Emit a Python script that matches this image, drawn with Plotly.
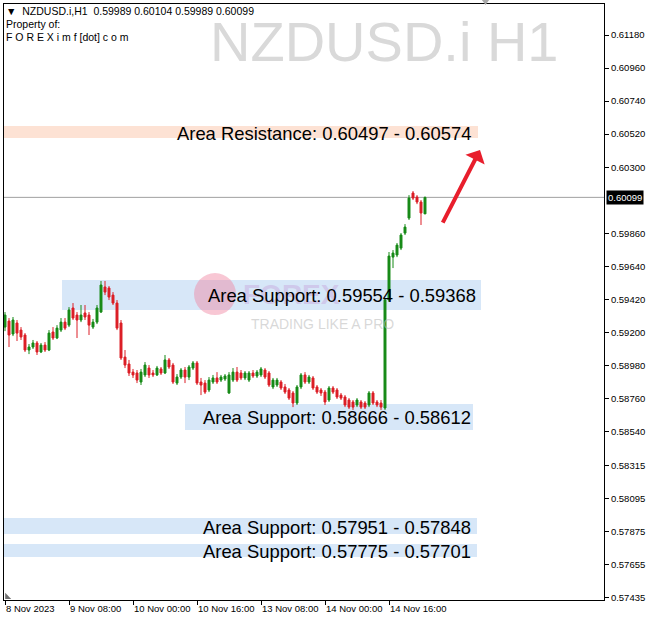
import plotly.graph_objects as go

# ---- data ----
opens = [0.59235,0.59275,0.59189,0.59262,0.59215,0.59182,0.59082,0.59102,0.59129,0.59069,
         0.59115,0.59082,0.59202,0.59162,0.59215,0.59268,0.59248,0.59362,0.59315,0.59282,
         0.59329,0.59315,0.59235,0.59268,0.59335,0.59502,0.59495,0.59448,0.59395,0.59262,
         0.59035,0.58989,0.58935,0.58929,0.58869,0.58916,0.58962,0.58929,0.58916,0.58956,
         0.58929,0.59016,0.58982,0.58862,0.58902,0.58949,0.58902,0.58962,0.58996,0.58869,
         0.58862,0.58816,0.58869,0.58896,0.58882,0.58889,0.58796,0.58882,0.58935,0.58929,
         0.58896,0.58882,0.58929,0.58909,0.58916,0.58949,0.58929,0.58836,0.58849,0.58869,
         0.58836,0.58816,0.58796,0.58729,0.58836,0.58916,0.58869,0.58896,0.58836,0.58816,
         0.58802,0.58749,0.58829,0.58816,0.58782,0.58769,0.58749,0.58736,0.58716,0.58736,
         0.58729,0.58716,0.58796,0.58736,0.58729,0.58696,0.59415,0.59701,0.59715,0.59761,
         0.59861,0.59961,0.60128,0.60101,0.60068,0.59989]
highs = [0.59335,0.59295,0.59302,0.59282,0.59235,0.59195,0.59122,0.59149,0.59142,0.59129,
         0.59135,0.59215,0.59235,0.59248,0.59295,0.59295,0.59368,0.59395,0.59335,0.59382,
         0.59382,0.59335,0.59289,0.59382,0.59542,0.59542,0.59508,0.59468,0.59415,0.59282,
         0.59082,0.59016,0.58956,0.58949,0.58956,0.59002,0.58982,0.58949,0.58976,0.58969,
         0.59049,0.59029,0.58996,0.58922,0.58962,0.58969,0.58982,0.59009,0.59009,0.58896,
         0.58882,0.58902,0.58916,0.58935,0.58916,0.58922,0.58935,0.58962,0.58969,0.58949,
         0.58942,0.58942,0.58949,0.58949,0.58969,0.58962,0.58942,0.58896,0.58896,0.58882,
         0.58856,0.58829,0.58809,0.58849,0.58929,0.58935,0.58916,0.58909,0.58849,0.58829,
         0.58816,0.58842,0.58842,0.58829,0.58796,0.58782,0.58762,0.58749,0.58762,0.58749,
         0.58742,0.58809,0.58809,0.58749,0.58749,0.59428,0.59735,0.59748,0.59795,0.59861,
         0.59921,0.60114,0.60141,0.60114,0.60081,0.60104]
lows = [0.59208,0.59102,0.59175,0.59142,0.59149,0.59069,0.59055,0.59089,0.59049,0.59062,
        0.59069,0.59075,0.59149,0.59155,0.59202,0.59215,0.59235,0.59282,0.59162,0.59268,
        0.59282,0.59182,0.59222,0.59255,0.59329,0.59448,0.59415,0.59382,0.59215,0.59016,
        0.58962,0.58909,0.58896,0.58862,0.58849,0.58902,0.58896,0.58902,0.58909,0.58916,
        0.58922,0.58956,0.58856,0.58849,0.58889,0.58862,0.58882,0.58949,0.58849,0.58782,
        0.58789,0.58802,0.58856,0.58856,0.58869,0.58876,0.58789,0.58869,0.58869,0.58882,
        0.58882,0.58869,0.58896,0.58896,0.58902,0.58889,0.58836,0.58822,0.58836,0.58816,
        0.58789,0.58749,0.58702,0.58716,0.58822,0.58856,0.58856,0.58816,0.58789,0.58776,
        0.58716,0.58736,0.58789,0.58756,0.58749,0.58702,0.58689,0.58683,0.58702,0.58689,
        0.58689,0.58702,0.58716,0.58702,0.58683,0.58683,0.59402,0.59628,0.59701,0.59748,
        0.59848,0.59948,0.60081,0.60054,0.59915,0.59989]
closes = [0.59315,0.59182,0.59282,0.59195,0.59169,0.59082,0.59102,0.59129,0.59069,0.59115,
          0.59082,0.59195,0.59162,0.59228,0.59268,0.59228,0.59349,0.59295,0.59282,0.59315,
          0.59302,0.59248,0.59268,0.59362,0.59515,0.59468,0.59435,0.59395,0.59228,0.59029,
          0.58982,0.58929,0.58916,0.58882,0.58935,0.58982,0.58916,0.58916,0.58962,0.58929,
          0.59016,0.58969,0.58869,0.58902,0.58949,0.58902,0.58969,0.58996,0.58862,0.58849,
          0.58802,0.58882,0.58896,0.58869,0.58902,0.58909,0.58916,0.58935,0.58882,0.58896,
          0.58929,0.58929,0.58909,0.58935,0.58956,0.58902,0.58849,0.58882,0.58882,0.58829,
          0.58802,0.58762,0.58729,0.58836,0.58916,0.58869,0.58902,0.58829,0.58802,0.58796,
          0.58736,0.58829,0.58802,0.58769,0.58762,0.58716,0.58702,0.58702,0.58749,0.58702,
          0.58702,0.58796,0.58729,0.58716,0.58702,0.59415,0.59708,0.59728,0.59781,0.59848,
          0.59901,0.60094,0.60094,0.60068,0.59995,0.60099]

time_tick_bars = [0, 16, 32, 48, 64, 80, 96]
time_tick_labels = ["8 Nov 2023", "9 Nov 08:00", "10 Nov 00:00", "10 Nov 16:00",
                    "13 Nov 08:00", "14 Nov 00:00", "14 Nov 16:00"]

price_ticks = [0.61180, 0.60960, 0.60740, 0.60520, 0.60300, 0.59860, 0.59640, 0.59420,
               0.59200, 0.58980, 0.58760, 0.58540, 0.58315, 0.58095, 0.57875, 0.57655, 0.57435]
current_price = 0.60099

# zones
zone_labels = ["Area Resistance: 0.60497 - 0.60574", "Area Support: 0.59554 - 0.59368",
               "Area Support: 0.58666 - 0.58612", "Area Support: 0.57951 - 0.57848",
               "Area Support: 0.57775 - 0.57701"]
zone_low = [0.60494, 0.59349, 0.58549, 0.57857, 0.57704]
zone_high = [0.60574, 0.59548, 0.58722, 0.57963, 0.57790]
zone_start = [-0.25, 14.25, 45.0, -0.25, -0.25]
zone_end = [118.25, 119.0, 117.0, 118.0, 118.0]
zone_kind = ["res", "sup", "sup", "sup", "sup"]

bars = list(range(len(opens)))

fig = go.Figure()
fig.add_trace(go.Candlestick(
    x=bars, open=opens, high=highs, low=lows, close=closes,
    increasing=dict(line=dict(color="#178a17", width=1), fillcolor="#178a17"),
    decreasing=dict(line=dict(color="#dc1e26", width=1), fillcolor="#dc1e26"),
    whiskerwidth=0, showlegend=False, hoverinfo="skip"))

shapes = []
annotations = []
label_font = dict(family="Liberation Sans, Arial, sans-serif", size=18.4, color="#000000")
for lab, lo, hi, s, e, k in zip(zone_labels, zone_low, zone_high, zone_start, zone_end, zone_kind):
    shapes.append(dict(type="rect", xref="x", yref="y", x0=s, x1=e, y0=lo, y1=hi,
                       fillcolor="#fde2d4" if k == "res" else "#d7e7f8",
                       line=dict(width=0), layer="below"))

# watermark logo
shapes.append(dict(type="circle", xref="x", yref="y", xsizemode="pixel", ysizemode="pixel",
                   xanchor=52.5, yanchor=0.59455, x0=-21, x1=21, y0=-21, y1=21,
                   fillcolor="rgba(240,130,160,0.45)", line=dict(width=0), layer="below"))
annotations.append(dict(x=59, y=0.59455, xref="x", yref="y", text="<b>FOREX</b>",
                        showarrow=False, xanchor="left", yanchor="middle",
                        font=dict(family="Liberation Sans, Arial", size=28, color="rgba(200,175,225,0.55)")))
annotations.append(dict(x=61, y=0.59255, xref="x", yref="y", text="TRADING LIKE A PRO",
                        showarrow=False, xanchor="left", yanchor="middle",
                        font=dict(family="Liberation Sans, Arial", size=14, color="rgba(190,190,190,0.6)")))

label_x = [117.0, 118.2, 117.0, 117.0, 117.0]
label_y = [0.60527, 0.59448, 0.58636, 0.57903, 0.57737]
for lab, lx, ly in zip(zone_labels, label_x, label_y):
    annotations.append(dict(x=lx, y=ly, xref="x", yref="y", text=lab, showarrow=False,
                            xanchor="right", yanchor="middle", font=label_font))

# current price line
shapes.append(dict(type="line", xref="paper", yref="y", x0=0, x1=1, y0=current_price, y1=current_price,
                   line=dict(color="#a0a0a0", width=1), layer="below"))
annotations.append(dict(x=1, y=current_price, xref="paper", yref="y", text="0.60099",
                        showarrow=False, xanchor="left", yanchor="middle", xshift=2,
                        bgcolor="#000000", borderpad=1,
                        font=dict(family="Liberation Sans, Arial", size=9.5, color="#ffffff")))

# red arrow
annotations.append(dict(x=118.75, y=0.60414, xref="x", yref="y", ax=-38, ay=74, axref="pixel", ayref="pixel",
                        text="", showarrow=True, arrowhead=1, arrowsize=0.9, arrowwidth=4,
                        arrowcolor="#e81e2c"))

# big symbol watermark
annotations.append(dict(x=0.633, y=0.937, xref="paper", yref="paper", text="NZDUSD.i H1",
                        showarrow=False, xanchor="center", yanchor="middle",
                        font=dict(family="Liberation Sans, Arial", size=56, color="#d9d9d9")))

# header text
hdr_font = dict(family="Liberation Sans, Arial", size=10.5, color="#000000")
annotations.append(dict(x=0.0, y=0.989, xref="paper", yref="paper",
                        text="▼  NZDUSD.i,H1  0.59989 0.60104 0.59989 0.60099",
                        showarrow=False, xanchor="left", yanchor="middle", font=hdr_font))
annotations.append(dict(x=0.0, y=0.967, xref="paper", yref="paper", text="Property of:",
                        showarrow=False, xanchor="left", yanchor="middle", font=hdr_font))
annotations.append(dict(x=0.0, y=0.945, xref="paper", yref="paper",
                        text="F O R E X i m f [dot] c o m",
                        showarrow=False, xanchor="left", yanchor="middle", font=hdr_font))

# chart-shift and scale markers
shapes.append(dict(type="path", xref="paper", yref="paper",
                   path="M 0.793 1.0117 L 0.812 1.0117 L 0.8025 0.9983 Z",
                   fillcolor="#a8a8a8", line=dict(width=0)))
shapes.append(dict(type="path", xref="paper", yref="paper",
                   path="M 0.002 0.0017 L 0.012 0.0017 L 0.002 0.012 Z",
                   fillcolor="#707070", line=dict(width=0)))

fig.update_layout(
    width=653, height=622,
    margin=dict(l=4, r=49, t=4, b=22, autoexpand=False),
    paper_bgcolor="#ffffff", plot_bgcolor="#ffffff",
    shapes=shapes, annotations=annotations,
    showlegend=False,
    xaxis=dict(range=[-0.25, 149.75], rangeslider=dict(visible=False), automargin=False,
               tickvals=time_tick_bars, ticktext=time_tick_labels, tickangle=0,
               ticklabelposition="outside right",
               ticks="outside", ticklen=4, tickcolor="#000000",
               tickfont=dict(family="Liberation Sans, Arial", size=9.5, color="#000000"),
               showgrid=False, zeroline=False,
               showline=True, mirror=True, linecolor="#000000", linewidth=1),
    yaxis=dict(range=[0.57417, 0.61387], side="right", automargin=False,
               tickvals=price_ticks, ticktext=["%.5f" % v for v in price_ticks],
               ticks="outside", ticklen=4, tickcolor="#000000",
               tickfont=dict(family="Liberation Sans, Arial", size=9.5, color="#000000"),
               showgrid=False, zeroline=False,
               showline=True, mirror=True, linecolor="#000000", linewidth=1),
)

fig.write_html("out.html", config={"displayModeBar": False},
               post_script="document.body.style.margin='0';document.body.style.overflow='hidden';")
